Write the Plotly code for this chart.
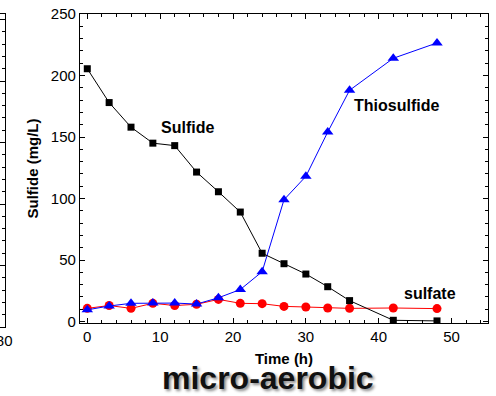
import plotly.graph_objects as go

time_h = [0, 3, 6, 9, 12, 15, 18, 21, 24, 27, 30, 33, 36, 42, 48]
sulfide = [205.5, 178, 158, 145, 143, 121.5, 105.5, 89, 55.5, 47, 38.6, 28.3, 17, 1, 0.5]
thiosulfide = [9.5, 12.6, 14.8, 15, 15, 14.2, 19.3, 26, 40.5, 99, 118, 154, 188, 214, 226.5]
sulfate = [10.7, 13, 10.7, 14.8, 13, 14, 18, 14.8, 14.5, 12.3, 11.8, 11, 10.7, 11, 10.5]

x_ticks = [0, 10, 20, 30, 40, 50]
y_ticks = [0, 50, 100, 150, 200, 250]
left_panel_ticks = [80]

FONT = "Liberation Sans, Arial, sans-serif"

fig = go.Figure()

fig.add_trace(go.Scatter(
    x=time_h, y=sulfate, mode="lines+markers",
    line=dict(color="#ff0000", width=1),
    marker=dict(symbol="circle", size=9, color="#ff0000"),
    xaxis="x", yaxis="y", showlegend=False))
fig.add_trace(go.Scatter(
    x=time_h, y=thiosulfide, mode="lines+markers",
    line=dict(color="#0000ff", width=1),
    marker=dict(symbol="triangle-up", size=10, color="#0000ff"),
    xaxis="x", yaxis="y", showlegend=False))
fig.add_trace(go.Scatter(
    x=time_h, y=sulfide, mode="lines+markers",
    line=dict(color="#000000", width=1),
    marker=dict(symbol="square", size=7, color="#000000"),
    xaxis="x", yaxis="y", showlegend=False))

# remnant of neighbouring panel at the far left
fig.add_trace(go.Scatter(x=[79.5], y=[-100], mode="markers",
                         marker=dict(size=1, opacity=0),
                         xaxis="x2", yaxis="y2", showlegend=False,
                         hoverinfo="skip"))

W, H = 496, 396
ml, mr, mt, mb = 0, 8, 14, 69
pw = W - ml - mr
ph = H - mt - mb

fig.update_layout(
    width=W, height=H,
    margin=dict(l=ml, r=mr, t=mt, b=mb, autoexpand=False),
    plot_bgcolor="white", paper_bgcolor="white",
    font=dict(family=FONT, size=15, color="black"),
    xaxis=dict(
        domain=[80 / pw, 1], range=[-1, 55], anchor="y",
        tickvals=x_ticks, ticks="inside", ticklen=5, tickwidth=1.2,
        tickcolor="black", showline=True, linecolor="black", linewidth=1.3,
        mirror="ticks", showgrid=False, zeroline=False,
        tickfont=dict(size=15),
        minor=dict(dtick=2, ticks="inside", ticklen=3, tickwidth=1,
                   tickcolor="black", showgrid=False),
        title=dict(text="<b>Time (h)</b>", font=dict(size=15), standoff=9),
    ),
    yaxis=dict(
        domain=[4 / ph, 1], range=[-1.2, 250], anchor="x",
        tickvals=y_ticks, ticks="inside", ticklen=5, tickwidth=1.2,
        tickcolor="black", showline=True, linecolor="black", linewidth=1.3,
        mirror="ticks", showgrid=False, zeroline=False,
        tickfont=dict(size=15),
        minor=dict(dtick=10, ticks="inside", ticklen=3, tickwidth=1,
                   tickcolor="black", showgrid=False),
        title=dict(text="<b>Sulfide (mg/L)</b>", font=dict(size=15), standoff=8),
    ),
    xaxis2=dict(
        domain=[0, 5 / pw], range=[79, 80.2], anchor="y2",
        tickvals=left_panel_ticks, ticks="", showline=True, linecolor="black",
        linewidth=1.3, mirror=True, showgrid=False, zeroline=False,
        tickfont=dict(size=15), ticklabeloverflow="allow", automargin=False,
    ),
    yaxis2=dict(
        domain=[0, 1], range=[0, ph / 1.23], anchor="x2", side="right",
        dtick=50, ticks="inside", ticklen=5, tickwidth=1.2, tickcolor="black",
        showticklabels=False, showline=True, linecolor="black", linewidth=1.3,
        showgrid=False, zeroline=False, automargin=False,
        minor=dict(dtick=10, ticks="inside", ticklen=3, tickwidth=1,
                   tickcolor="black", showgrid=False),
    ),
    annotations=[
        dict(x=13.8, y=157.6, xref="x", yref="y", text="<b>Sulfide</b>",
             showarrow=False, font=dict(size=16)),
        dict(x=42.5, y=175.4, xref="x", yref="y", text="<b>Thiosulfide</b>",
             showarrow=False, font=dict(size=16)),
        dict(x=47.1, y=22.4, xref="x", yref="y", text="<b>sulfate</b>",
             showarrow=False, font=dict(size=16)),
        dict(x=272 / W, y=-51 / ph, xref="paper", yref="paper",
             text="<b>micro-aerobic</b>", showarrow=False,
             xanchor="center", yanchor="middle",
             font=dict(size=32, color="#111111",
                       shadow="2px 2px 3px #888888")),
    ],
)

fig.write_html("out.html")
